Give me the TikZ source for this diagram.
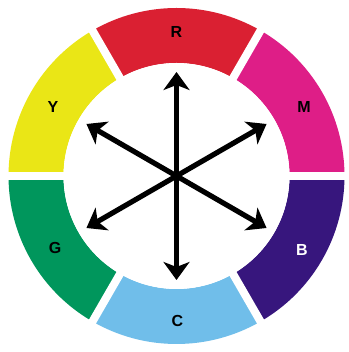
\documentclass[tikz,border=0pt]{standalone}
\usepackage{fontspec}
\setmainfont{Liberation Sans}
\usetikzlibrary{arrows.meta,calc}
\definecolor{cR}{RGB}{218,32,50}
\definecolor{cM}{RGB}{222,30,135}
\definecolor{cB}{RGB}{55,22,125}
\definecolor{cC}{RGB}{112,190,234}
\definecolor{cG}{RGB}{0,150,92}
\definecolor{cY}{RGB}{234,230,22}
\tikzset{
  gapline/.style={white,line width=8pt},
  lbl/.style={font=\fontsize{16}{16}\selectfont\bfseries,text=black},
  dbl/.style={line width=5.2pt,{Stealth[length=18pt,width=26pt,inset=5pt]}-{Stealth[length=18pt,width=26pt,inset=5pt]}}
}
\newcommand{\ringseg}[3]{%
  \fill[#1] ($(O)+(#2:168)$) arc[start angle=#2,end angle=#3,radius=168]
    -- ($(O)+(#3:113)$) arc[start angle=#3,end angle=#2,radius=113] -- cycle;}
\begin{document}
\begin{tikzpicture}[x=1pt,y=1pt]
\useasboundingbox (0,0) rectangle (348,352);
\fill[white] (0,0) rectangle (348,352);
\coordinate (O) at (176.5,176);
\ringseg{cR}{60}{120}
\ringseg{cY}{120}{180}
\ringseg{cG}{180}{240}
\ringseg{cC}{240}{300}
\ringseg{cB}{300}{360}
\ringseg{cM}{0}{60}
\foreach \a in {0,60,120}{
  \draw[gapline] ($(O)+(\a:172)$) -- ($(O)+(\a+180:172)$);
}
\fill[white] (O) circle[radius=113];
\node[lbl] (R) at (176.5,320) {R};
\node[lbl] (M) at (304,245) {M};
\node[lbl,text=white] (B) at (302,102) {B};
\node[lbl] (C) at (177.5,31) {C};
\node[lbl] (G) at (55,104) {G};
\node[lbl] (Y) at (53,245) {Y};
\foreach \n/\a in {t90/90,t30/30,tm30/-30,tm90/-90,t150/150,t210/210}{
  \coordinate (\n) at ($(O)+(\a:104)$);
}
\draw[dbl] (tm90) -- (t90);
\draw[dbl] (t210) -- (t30);
\draw[dbl] (t150) -- (tm30);
\end{tikzpicture}
\end{document}
